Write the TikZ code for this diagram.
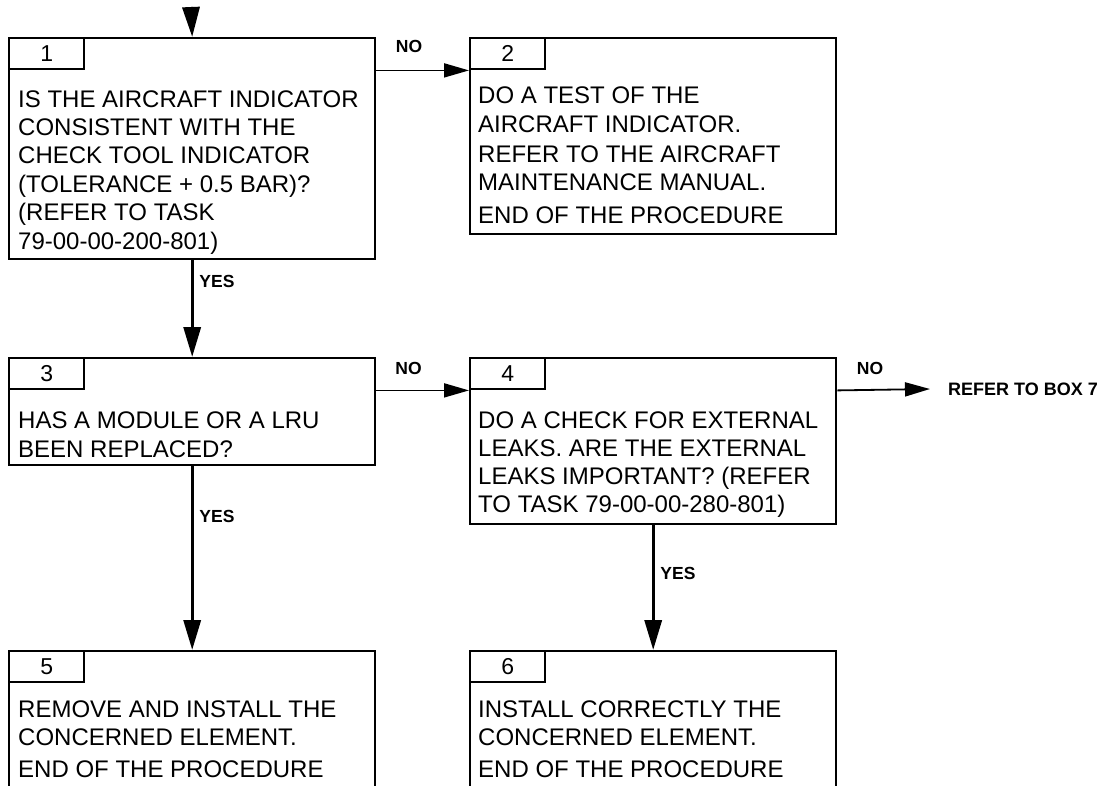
\documentclass[tikz,border=0pt]{standalone}
\usepackage{fontspec}
\setmainfont{Liberation Sans}
\usetikzlibrary{arrows.meta}
\begin{document}
\begin{tikzpicture}[x=1pt,y=-1pt,
  box/.style={draw, line width=2.4pt, rectangle, inner sep=0pt, minimum width=366pt, anchor=north west},
  tabbox/.style={draw, line width=2.4pt, rectangle, inner sep=0pt, minimum width=75pt, minimum height=31pt, anchor=north west, font=\fontsize{23}{26}\selectfont},
  txt/.style={anchor=base west, inner sep=0pt, font=\fontsize{24}{28}\selectfont},
  lbl/.style={inner sep=0pt, font=\fontsize{17.5}{20}\selectfont\bfseries},
  vflow/.style={line width=3.4pt, -{Triangle[length=30pt,width=17pt]}},
  hflow/.style={line width=1.8pt, -{Triangle[length=25pt,width=14pt]}},
]
\useasboundingbox (0,0) rectangle (1106,785);
\clip (0,0) rectangle (1106,785);

% boxes
\node[box, minimum height=221pt] (b1) at (8,37) {};
\node[tabbox] (t1) at (b1.north west) {1};
\node[box, minimum height=196pt] (b2) at (469,37) {};
\node[tabbox] (t2) at (b2.north west) {2};
\node[box, minimum height=107pt] (b3) at (8,357) {};
\node[tabbox] (t3) at (b3.north west) {3};
\node[box, minimum height=166pt] (b4) at (469,357) {};
\node[tabbox] (t4) at (b4.north west) {4};
\node[box, minimum height=170pt] (b5) at (8,650) {};
\node[tabbox] (t5) at (b5.north west) {5};
\node[box, minimum height=170pt] (b6) at (469,650) {};
\node[tabbox] (t6) at (b6.north west) {6};

% box texts
\node[txt] (b1a) at (18,107)   {IS THE AIRCRAFT INDICATOR};
\node[txt] (b1b) at (18,135.4) {CONSISTENT WITH THE};
\node[txt] (b1c) at (18,163.8) {CHECK TOOL INDICATOR};
\node[txt] (b1d) at (18,192.2) {(TOLERANCE + 0.5 BAR)?};
\node[txt] (b1e) at (18,220.6) {(REFER TO TASK};
\node[txt] (b1f) at (18,249)   {79-00-00-200-801)};

\node[txt] (b2a) at (478,103) {DO A TEST OF THE};
\node[txt] (b2b) at (478,132) {AIRCRAFT INDICATOR.};
\node[txt] (b2c) at (478,162) {REFER TO THE AIRCRAFT};
\node[txt] (b2d) at (478,190) {MAINTENANCE MANUAL.};
\node[txt] (b2e) at (478,223) {END OF THE PROCEDURE};

\node[txt] (b3a) at (18,428) {HAS A MODULE OR A LRU};
\node[txt] (b3b) at (18,457) {BEEN REPLACED?};

\node[txt] (b4a) at (478,428) {DO A CHECK FOR EXTERNAL};
\node[txt] (b4b) at (478,456) {LEAKS. ARE THE EXTERNAL};
\node[txt] (b4c) at (478,484) {LEAKS IMPORTANT? (REFER};
\node[txt] (b4d) at (478,512) {TO TASK 79-00-00-280-801)};

\node[txt] (b5a) at (18,717) {REMOVE AND INSTALL THE};
\node[txt] (b5b) at (18,745) {CONCERNED ELEMENT.};
\node[txt] (b5c) at (18,777) {END OF THE PROCEDURE};

\node[txt] (b6a) at (478,717) {INSTALL CORRECTLY THE};
\node[txt] (b6b) at (478,745) {CONCERNED ELEMENT.};
\node[txt] (b6c) at (478,777) {END OF THE PROCEDURE};

% external reference
\node[lbl, anchor=west, font=\fontsize{18}{20}\selectfont\bfseries] (ref) at (948,389) {REFER TO BOX 7};

% connectors
\coordinate (start) at (191,7);
\draw[vflow] (start) -- (b1.north);
\draw[vflow] (b1.south) -- (b3.north);
\draw[vflow] (b3.south) -- (b5.north);
\draw[vflow] (b4.south) -- (b6.north);
\draw[hflow] (b1.east |- t2.south west) -- (t2.south west);
\draw[hflow] (b3.east |- t4.south west) -- (t4.south west);
\draw[hflow] (b4.east |- t4.south west) -- ([xshift=-18pt]ref.west);

% labels
\node[lbl] (no1) at (409,46.5) {NO};
\node[lbl] (no2) at (408.5,368.5) {NO};
\node[lbl] (no3) at (870,368.5) {NO};
\node[lbl] (yes1) at (217,281.5) {YES};
\node[lbl] (yes2) at (217,516) {YES};
\node[lbl] (yes3) at (678,573) {YES};
\end{tikzpicture}
\end{document}
